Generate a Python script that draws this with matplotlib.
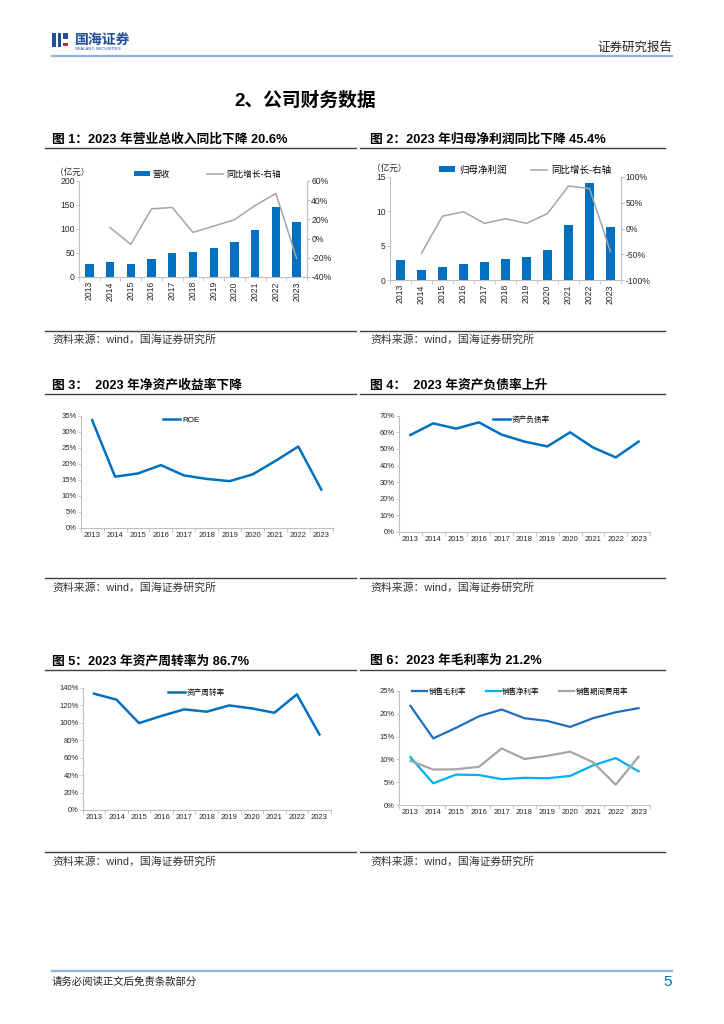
import matplotlib
matplotlib.use("Agg")
from matplotlib import pyplot as plt
from matplotlib.lines import Line2D
from matplotlib.patches import Rectangle
import numpy as np

plt.rcParams['font.family'] = ['Liberation Sans', 'Noto Sans CJK SC', 'DejaVu Sans']

# ---------------- data ----------------
years = ['2013', '2014', '2015', '2016', '2017', '2018', '2019', '2020', '2021', '2022', '2023']

revenue = [27, 31, 28, 38, 50, 53, 61, 72.5, 97.5, 145, 115]                 # 亿元
revenue_yoy = [np.nan, 11.5, -6, 31, 32.4, 6.5, 13, 19.7, 34.5, 47, -20.6]   # %

net_profit = [2.94, 1.5, 1.88, 2.36, 2.65, 3.09, 3.42, 4.39, 8.0, 14.08, 7.7]
net_profit_yoy = [np.nan, -48, 24, 32.5, 10, 19, 10, 29, 82.6, 77.5, -45.4]

roe = [33.6, 16.0, 17.0, 19.6, 16.4, 15.3, 14.6, 16.7, 20.9, 25.4, 12.0]
debt_ratio = [58.4, 65.4, 62.2, 66.0, 58.6, 54.4, 51.5, 60.0, 50.9, 44.9, 54.4]
turnover = [133.5, 126.6, 99.7, 108, 115.5, 112.8, 120, 116.6, 111.6, 132.7, 86.7]

gross_margin = [21.7, 14.6, 16.9, 19.4, 20.9, 19.0, 18.4, 17.1, 19.0, 20.3, 21.2]
net_margin = [10.5, 4.8, 6.7, 6.6, 5.7, 6.0, 5.9, 6.4, 8.7, 10.3, 7.4]
expense_rate = [9.7, 7.8, 7.85, 8.4, 12.4, 10.1, 10.8, 11.7, 9.4, 4.5, 10.6]

# ---------------- page helpers ----------------
W, H = 724, 1024
fig = plt.figure(figsize=(W / 100, H / 100), dpi=100)

BLUE = '#0070C0'
LBLUE = '#00B0F0'
GREY = '#A5A5A5'
AX_GREY = '#BFBFBF'


def px_axes(x0, y0, x1, y1):
    return fig.add_axes([x0 / W, 1 - y1 / H, (x1 - x0) / W, (y1 - y0) / H])


def ftext(x, y, s, **kw):
    return fig.text(x / W, 1 - y / H, s, **kw)


def hline(x0, x1, y, color='#404040', lw=1.2):
    fig.add_artist(Line2D([x0 / W, x1 / W], [1 - y / H, 1 - y / H],
                          color=color, lw=lw, transform=fig.transFigure))


def frect(x, y, w, h, color):
    fig.add_artist(Rectangle((x / W, 1 - (y + h) / H), w / W, h / H,
                             color=color, transform=fig.transFigure, lw=0))


def px_legend(ax, handles, labels, x, y, fs, hl, pad, cs):
    # legend whose left edge / vertical centre sits at page pixel (x, y)
    ax.legend(handles, labels, ncol=len(labels), frameon=False, fontsize=fs,
              loc='center left', bbox_to_anchor=(x / W, 1 - y / H),
              bbox_transform=fig.transFigure, borderpad=0, borderaxespad=0,
              handlelength=hl, handletextpad=pad, columnspacing=cs, handleheight=0.6)


def cat_axis(ax, fs, rotate=False):
    x = np.arange(len(years))
    ax.set_xlim(-0.5, len(years) - 0.5)
    ax.set_xticks(x)
    ax.set_xticklabels(years, fontsize=fs, rotation=90 if rotate else 0)
    ax.set_xticks(np.arange(-0.5, len(years), 1), minor=True)
    ax.tick_params(axis='x', which='major', length=0, pad=3)
    ax.tick_params(axis='x', which='minor', length=3, color=AX_GREY, width=0.6)
    for s in ['top', 'right']:
        ax.spines[s].set_visible(False)
    for s in ['left', 'bottom']:
        ax.spines[s].set_color(AX_GREY)
        ax.spines[s].set_linewidth(0.8)
    ax.tick_params(axis='y', length=2, color=AX_GREY, width=0.6, labelsize=fs,
                   labelcolor='#262626', pad=1)
    ax.tick_params(axis='x', labelcolor='#262626')


# ---------------- header ----------------
frect(52, 33, 4, 14, '#1F4E9A')
frect(58, 33, 3, 14, '#1F4E9A')
frect(63, 33, 5, 6, '#1F4E9A')
frect(63, 43, 5, 3, '#D7262B')
ftext(75, 40, '国海证券', fontsize=10, weight='bold', color='#1F4E9A', va='center')
ftext(75, 49, 'SEALAND SECURITIES', fontsize=3, color='#1F4E9A', va='center')
ftext(672, 48, '证券研究报告', fontsize=9, color='#222222', ha='right', va='center')
hline(52, 672, 56, color='#8DB3E2', lw=1.6)

ftext(305, 101, '2、公司财务数据', fontsize=13.5, weight='bold', ha='center', va='center')

# ---------------- section titles / source lines ----------------
panels = [
    (52, 45, 356, 139, 148, 331, 340, '图 1：2023 年营业总收入同比下降 20.6%'),
    (370, 360, 665, 139, 148, 331, 340, '图 2：2023 年归母净利润同比下降 45.4%'),
    (52, 45, 356, 385, 394, 578, 588, '图 3：  2023 年净资产收益率下降'),
    (370, 360, 665, 385, 394, 578, 588, '图 4：  2023 年资产负债率上升'),
    (52, 45, 356, 661, 670, 852, 862, '图 5：2023 年资产周转率为 86.7%'),
    (370, 360, 665, 661, 670, 852, 862, '图 6：2023 年毛利率为 21.2%'),
]
for tx, lx0, lx1, ty, ly, sy, sty, title in panels:
    ftext(tx, ty, title, fontsize=9.2, weight='bold', va='center')
    hline(lx0, lx1, ly, color='#404040', lw=1.0)
    hline(lx0, lx1, sy, color='#404040', lw=1.0)
    ftext(tx, sty, '资料来源：wind，国海证券研究所', fontsize=7.8, color='#333333', va='center')

x = np.arange(len(years))

# ---------------- chart 1 ----------------
ax1 = px_axes(79, 181, 307, 277)
cat_axis(ax1, 6.2, rotate=True)
ax1.bar(x, revenue, width=0.4, color=BLUE, label='营收')
ax1.set_ylim(0, 200)
ax1.set_yticks([0, 50, 100, 150, 200])
ax1r = ax1.twinx()
ax1r.plot(x, revenue_yoy, color=GREY, lw=1.1, label='同比增长-右轴')
ax1r.set_ylim(-40, 60)
ax1r.set_yticks([-40, -20, 0, 20, 40, 60])
ax1r.set_yticklabels([f'{v}%' for v in [-40, -20, 0, 20, 40, 60]])
for s in ['top', 'left', 'bottom']:
    ax1r.spines[s].set_visible(False)
ax1r.spines['right'].set_color(AX_GREY)
ax1r.tick_params(axis='y', length=2, color=AX_GREY, labelsize=6.2, labelcolor='#262626', pad=1)
ftext(55, 172, '（亿元）', fontsize=6.2, color='#262626', va='center')
h1, l1 = ax1.get_legend_handles_labels()
h2, l2 = ax1r.get_legend_handles_labels()
px_legend(ax1, h1 + h2, l1 + l2, 134, 174, 6.2, 1.8, 0.4, 4.3)

# ---------------- chart 2 ----------------
ax2 = px_axes(390, 177, 621, 280)
cat_axis(ax2, 6.2, rotate=True)
ax2.bar(x, net_profit, width=0.43, color=BLUE, label='归母净利润')
ax2.set_ylim(0, 15)
ax2.set_yticks([0, 5, 10, 15])
ax2r = ax2.twinx()
ax2r.plot(x, net_profit_yoy, color=GREY, lw=1.1, label='同比增长-右轴')
ax2r.set_ylim(-100, 100)
ax2r.set_yticks([-100, -50, 0, 50, 100])
ax2r.set_yticklabels([f'{v}%' for v in [-100, -50, 0, 50, 100]])
for s in ['top', 'left', 'bottom']:
    ax2r.spines[s].set_visible(False)
ax2r.spines['right'].set_color(AX_GREY)
ax2r.tick_params(axis='y', length=2, color=AX_GREY, labelsize=6.2, labelcolor='#262626', pad=1)
ftext(372, 168, '（亿元）', fontsize=6.2, color='#262626', va='center')
h1, l1 = ax2.get_legend_handles_labels()
h2, l2 = ax2r.get_legend_handles_labels()
px_legend(ax2, h1 + h2, l1 + l2, 439, 170, 6.8, 1.7, 0.4, 2.6)


def pct_labels(ax, ticks):
    ax.set_yticks(ticks)
    ax.set_yticklabels([f'{t}%' for t in ticks])


# ---------------- chart 3 ----------------
ax3 = px_axes(80.7, 415.7, 332.7, 528)
cat_axis(ax3, 5.5)
ax3.plot(x, roe, color=BLUE, lw=1.8, label='ROE')
ax3.set_ylim(0, 35)
pct_labels(ax3, list(range(0, 36, 5)))
h, l = ax3.get_legend_handles_labels()
px_legend(ax3, h, l, 163, 420, 5.8, 2.1, 0.25, 1)

# ---------------- chart 4 ----------------
ax4 = px_axes(399, 415.7, 650, 532)
cat_axis(ax4, 5.5)
ax4.plot(x, debt_ratio, color=BLUE, lw=1.8, label='资产负债率')
ax4.set_ylim(0, 70)
pct_labels(ax4, list(range(0, 71, 10)))
h, l = ax4.get_legend_handles_labels()
px_legend(ax4, h, l, 493, 420, 5.5, 2.2, 0.25, 1)

# ---------------- chart 5 ----------------
ax5 = px_axes(82.7, 688, 330.7, 810)
cat_axis(ax5, 5.5)
ax5.plot(x, turnover, color=BLUE, lw=1.8, label='资产周转率')
ax5.set_ylim(0, 140)
pct_labels(ax5, list(range(0, 141, 20)))
h, l = ax5.get_legend_handles_labels()
px_legend(ax5, h, l, 168, 693, 5.5, 2.2, 0.25, 1)

# ---------------- chart 6 ----------------
ax6 = px_axes(399, 690.7, 650, 805.3)
cat_axis(ax6, 5.5)
ax6.plot(x, gross_margin, color='#1F6FBF', lw=1.6, label='销售毛利率')
ax6.plot(x, net_margin, color=LBLUE, lw=1.6, label='销售净利率')
ax6.plot(x, expense_rate, color=GREY, lw=1.6, label='销售期间费用率')
ax6.set_ylim(0, 25)
pct_labels(ax6, list(range(0, 26, 5)))
h, l = ax6.get_legend_handles_labels()
px_legend(ax6, h, l, 412, 692, 5.4, 2.0, 0.2, 2.6)

# ---------------- footer ----------------
hline(52, 672, 971, color='#8DB3E2', lw=1.6)
ftext(52, 982, '请务必阅读正文后免责条款部分', fontsize=7.5, color='#222222', va='center')
ftext(672, 982, '5', fontsize=11, color='#0070C0', ha='right', va='center')

fig.savefig('out.png', dpi=100)
